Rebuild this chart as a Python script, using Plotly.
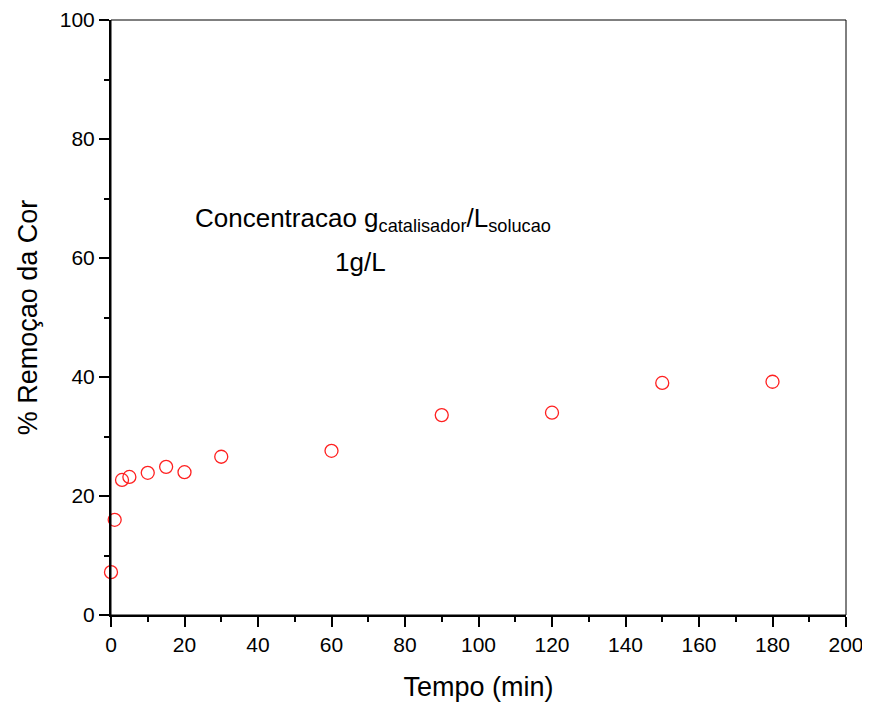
import plotly.graph_objects as go

tempo = [0, 1, 3, 5, 10, 15, 20, 30, 60, 90, 120, 150, 180]
remocao = [7.2, 16.0, 22.7, 23.2, 23.9, 24.9, 24.0, 26.6, 27.6, 33.6, 34.0, 39.0, 39.2]

x_ticks = [0, 20, 40, 60, 80, 100, 120, 140, 160, 180, 200]
y_ticks = [0, 20, 40, 60, 80, 100]

FONT = "Liberation Sans, Arial, sans-serif"

fig = go.Figure()
fig.add_trace(go.Scatter(
    x=tempo, y=remocao, mode="markers",
    marker=dict(symbol="circle-open", size=13, color="#ff2020", line=dict(width=1.3, color="#ff2020")),
    cliponaxis=False, showlegend=False,
))

axis_common = dict(
    showgrid=False, zeroline=False, showline=True, linecolor="black", linewidth=2,
    ticks="outside", ticklen=10, tickwidth=2, tickcolor="black", automargin=False,
    tickfont=dict(family=FONT, size=21, color="black"),
    minor=dict(ticks="outside", ticklen=5, tickwidth=2, tickcolor="black", showgrid=False),
)

fig.update_xaxes(
    range=[0, 200], tickvals=x_ticks, minor_dtick=10,
    title=dict(text="Tempo (min)", font=dict(family=FONT, size=27, color="black"), standoff=22),
    **axis_common,
)
fig.update_yaxes(
    range=[0, 100], tickvals=y_ticks, minor_dtick=10,
    title=dict(text="% Remoçao da Cor", font=dict(family=FONT, size=27, color="black"), standoff=14),
    **axis_common,
)

fig.add_shape(type="rect", xref="paper", yref="paper", x0=0, y0=0, x1=1, y1=1,
              line=dict(color="black", width=1), layer="above")

fig.add_annotation(x=71.3, y=66.4, xref="x", yref="y", showarrow=False,
                   text="Concentracao g<sub>catalisador</sub>/L<sub>solucao</sub>",
                   font=dict(family=FONT, size=26, color="black"))
fig.add_annotation(x=68.0, y=59.3, xref="x", yref="y", showarrow=False,
                   text="1g/L", font=dict(family=FONT, size=26, color="black"))

fig.update_layout(
    width=862, height=698,
    margin=dict(l=103, r=24, t=12, b=91),
    plot_bgcolor="white", paper_bgcolor="white",
)

fig.write_html("out.html")
